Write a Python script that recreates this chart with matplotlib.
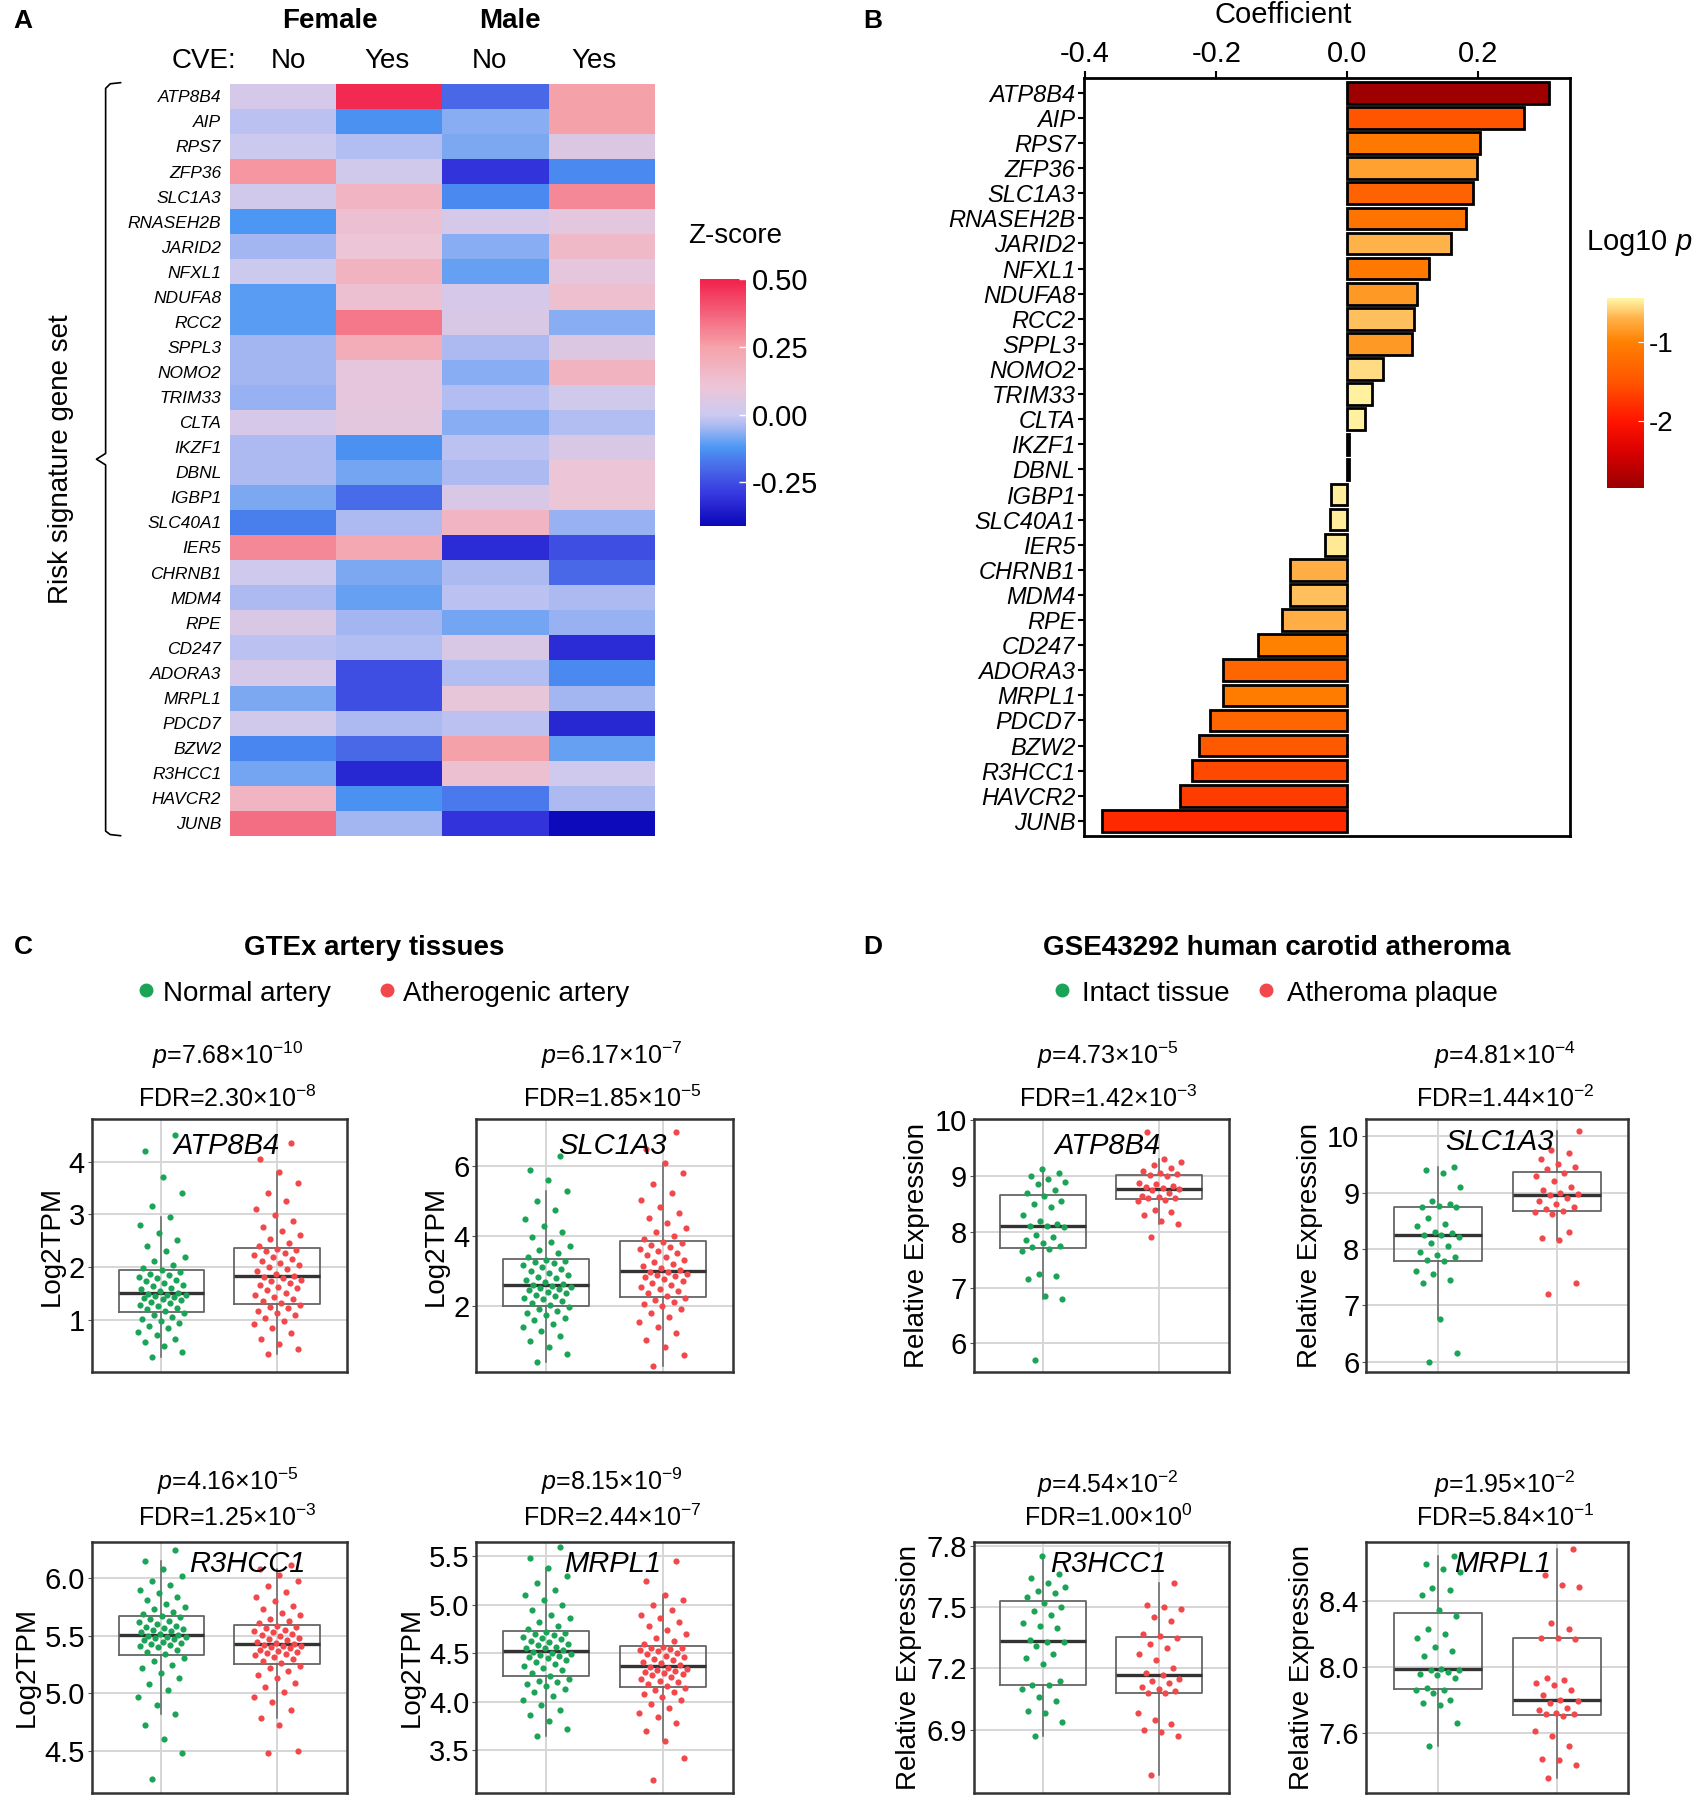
import numpy as np
import matplotlib
matplotlib.use("Agg")
import matplotlib.pyplot as plt
from matplotlib.colors import LinearSegmentedColormap, Normalize
from matplotlib.cm import ScalarMappable
from matplotlib.lines import Line2D

plt.rcParams['font.family'] = ['Liberation Sans', 'DejaVu Sans']
plt.rcParams['mathtext.fontset'] = 'custom'
plt.rcParams['mathtext.rm'] = 'Liberation Sans'
plt.rcParams['mathtext.it'] = 'Liberation Sans:italic'

# ---------------- data ----------------
genes = ["ATP8B4", "AIP", "RPS7", "ZFP36", "SLC1A3", "RNASEH2B", "JARID2", "NFXL1",
         "NDUFA8", "RCC2", "SPPL3", "NOMO2", "TRIM33", "CLTA", "IKZF1", "DBNL",
         "IGBP1", "SLC40A1", "IER5", "CHRNB1", "MDM4", "RPE", "CD247", "ADORA3",
         "MRPL1", "PDCD7", "BZW2", "R3HCC1", "HAVCR2", "JUNB"]

# panel A: z-scores (Female No / Female Yes / Male No / Male Yes)
z_female_no = [0.03, -0.02, 0.0, 0.27, 0.02, -0.12, -0.05, 0.0, -0.11, -0.11, -0.05, -0.05,
               -0.06, 0.03, -0.04, -0.04, -0.08, -0.16, 0.30, 0.01, -0.04, 0.04, -0.02, 0.03,
               -0.08, 0.02, -0.15, -0.09, 0.17, 0.35]
z_female_yes = [0.48, -0.13, -0.03, 0.02, 0.17, 0.12, 0.10, 0.18, 0.12, 0.33, 0.20, 0.08,
                0.08, 0.07, -0.13, -0.09, -0.19, -0.04, 0.22, -0.08, -0.10, -0.05, -0.03, -0.25,
                -0.25, -0.04, -0.20, -0.33, -0.13, -0.05]
z_male_no = [-0.20, -0.07, -0.08, -0.30, -0.14, 0.03, -0.07, -0.10, 0.03, 0.04, -0.04, -0.07,
             -0.03, -0.07, -0.02, -0.04, 0.04, 0.17, -0.32, -0.04, -0.02, -0.09, 0.04, -0.03,
             0.09, -0.02, 0.25, 0.12, -0.17, -0.30]
z_male_yes = [0.25, 0.25, 0.05, -0.14, 0.30, 0.07, 0.15, 0.08, 0.13, -0.07, 0.05, 0.18,
              0.02, -0.03, 0.04, 0.10, 0.10, -0.06, -0.25, -0.20, -0.04, -0.06, -0.32, -0.14,
              -0.05, -0.33, -0.10, 0.01, -0.04, -0.40]
cve_labels = ["No", "Yes", "No", "Yes"]

# panel B: coefficients and log10 p
coef = [0.307, 0.270, 0.203, 0.198, 0.192, 0.181, 0.158, 0.125, 0.107, 0.101, 0.099, 0.054,
        0.037, 0.027, 0.002, 0.002, -0.025, -0.027, -0.034, -0.088, -0.088, -0.100, -0.137,
        -0.189, -0.190, -0.209, -0.227, -0.237, -0.256, -0.375]
log10p = [-2.8, -1.5, -1.1, -0.8, -1.35, -1.15, -0.7, -1.1, -0.85, -0.65, -0.85, -0.55,
          -0.47, -0.47, -0.46, -0.46, -0.48, -0.48, -0.5, -0.72, -0.65, -0.72, -1.0,
          -1.3, -1.05, -1.3, -1.45, -1.6, -1.7, -1.85]

# panel C: GTEx Log2TPM (normal / atherogenic artery)
c_atp8b4_n = [0.3, 0.4, 0.5, 0.58, 0.65, 0.72, 0.78, 0.84, 0.89, 0.94, 0.98, 1.02, 1.06, 1.1, 1.13,
              1.17, 1.2, 1.23, 1.26, 1.29, 1.32, 1.35, 1.37, 1.39, 1.41, 1.43, 1.45, 1.47, 1.48, 1.49,
              1.52, 1.55, 1.58, 1.61, 1.64, 1.67, 1.7, 1.73, 1.76, 1.79, 1.82, 1.85, 1.88, 1.91, 1.94,
              1.99, 2.05, 2.12, 2.2, 2.3, 2.4, 2.52, 2.65, 2.8, 2.95, 3.15, 3.4, 3.7, 4.2, 4.5]
c_atp8b4_a = [0.35, 0.45, 0.55, 0.65, 0.75, 0.85, 0.92, 0.98, 1.04, 1.09, 1.14, 1.18, 1.22, 1.25, 1.28,
              1.32, 1.36, 1.4, 1.44, 1.48, 1.52, 1.56, 1.6, 1.63, 1.66, 1.7, 1.73, 1.76, 1.79, 1.81,
              1.84, 1.88, 1.92, 1.96, 2.0, 2.04, 2.08, 2.12, 2.16, 2.2, 2.24, 2.27, 2.3, 2.32, 2.34,
              2.4, 2.46, 2.53, 2.6, 2.68, 2.77, 2.87, 2.98, 3.1, 3.25, 3.4, 3.6, 3.8, 4.05, 4.35]
c_slc1a3_n = [0.4, 0.65, 0.85, 1.0, 1.15, 1.3, 1.4, 1.5, 1.6, 1.68, 1.75, 1.82, 1.88, 1.93, 1.98,
              2.04, 2.1, 2.15, 2.2, 2.25, 2.3, 2.34, 2.38, 2.42, 2.46, 2.5, 2.53, 2.56, 2.58, 2.6,
              2.64, 2.7, 2.75, 2.8, 2.85, 2.9, 2.96, 3.02, 3.08, 3.13, 3.18, 3.23, 3.27, 3.31, 3.34,
              3.42, 3.52, 3.62, 3.72, 3.85, 3.98, 4.12, 4.3, 4.5, 4.75, 5.0, 5.3, 5.6, 5.9, 6.3]
c_slc1a3_a = [0.3, 0.6, 0.85, 1.05, 1.25, 1.4, 1.55, 1.7, 1.82, 1.92, 2.0, 2.08, 2.14, 2.19, 2.23,
              2.3, 2.37, 2.44, 2.5, 2.56, 2.62, 2.68, 2.73, 2.78, 2.83, 2.87, 2.91, 2.94, 2.97, 2.99,
              3.04, 3.1, 3.16, 3.22, 3.28, 3.34, 3.4, 3.46, 3.52, 3.58, 3.64, 3.7, 3.75, 3.8, 3.84,
              3.92, 4.02, 4.13, 4.25, 4.38, 4.52, 4.68, 4.85, 5.05, 5.25, 5.5, 5.8, 6.1, 6.5, 7.0]
c_r3hcc1_n = [4.25, 4.48, 4.6, 4.72, 4.82, 4.9, 4.97, 5.03, 5.08, 5.13, 5.18, 5.22, 5.25, 5.28, 5.31,
              5.34, 5.36, 5.38, 5.4, 5.41, 5.42, 5.43, 5.44, 5.45, 5.46, 5.47, 5.48, 5.49, 5.49, 5.5,
              5.51, 5.52, 5.53, 5.54, 5.55, 5.56, 5.57, 5.58, 5.59, 5.6, 5.62, 5.63, 5.65, 5.66, 5.67,
              5.69, 5.71, 5.73, 5.75, 5.78, 5.81, 5.84, 5.87, 5.9, 5.94, 5.98, 6.02, 6.08, 6.15, 6.25]
c_r3hcc1_a = [4.48, 4.5, 4.72, 4.78, 4.85, 4.92, 4.97, 5.01, 5.05, 5.09, 5.13, 5.16, 5.19, 5.22, 5.24,
              5.26, 5.28, 5.3, 5.32, 5.33, 5.34, 5.35, 5.36, 5.37, 5.38, 5.39, 5.4, 5.41, 5.41, 5.42,
              5.43, 5.44, 5.45, 5.46, 5.47, 5.48, 5.5, 5.51, 5.52, 5.53, 5.54, 5.55, 5.57, 5.58, 5.59,
              5.61, 5.63, 5.65, 5.68, 5.7, 5.73, 5.76, 5.8, 5.84, 5.88, 5.93, 5.98, 6.03, 6.08, 6.12]
c_mrpl1_n = [3.65, 3.72, 3.8, 3.86, 3.92, 3.97, 4.02, 4.06, 4.1, 4.13, 4.16, 4.18, 4.2, 4.22, 4.24,
             4.27, 4.3, 4.33, 4.35, 4.37, 4.39, 4.41, 4.43, 4.45, 4.46, 4.47, 4.48, 4.49, 4.5, 4.51,
             4.53, 4.55, 4.56, 4.57, 4.59, 4.6, 4.62, 4.63, 4.65, 4.66, 4.67, 4.69, 4.7, 4.71, 4.72,
             4.75, 4.78, 4.82, 4.86, 4.9, 4.95, 5.0, 5.05, 5.1, 5.15, 5.22, 5.3, 5.38, 5.48, 5.6]
c_mrpl1_a = [3.2, 3.42, 3.6, 3.7, 3.78, 3.84, 3.89, 3.94, 3.98, 4.02, 4.05, 4.08, 4.1, 4.12, 4.14,
             4.16, 4.18, 4.2, 4.22, 4.24, 4.26, 4.28, 4.29, 4.3, 4.31, 4.32, 4.33, 4.34, 4.35, 4.36,
             4.38, 4.4, 4.41, 4.43, 4.44, 4.46, 4.47, 4.49, 4.5, 4.52, 4.53, 4.54, 4.55, 4.56, 4.57,
             4.6, 4.63, 4.66, 4.7, 4.74, 4.78, 4.82, 4.86, 4.9, 4.95, 5.0, 5.05, 5.1, 5.25, 5.45]

# panel D: GSE43292 relative expression (intact tissue / atheroma plaque)
d_atp8b4_n = [5.7, 6.8, 6.85, 7.15, 7.2, 7.25, 7.65, 7.7, 7.72, 7.75, 7.8, 7.85, 7.9, 7.95, 8.08, 8.1,
              8.1, 8.15, 8.2, 8.3, 8.45, 8.5, 8.55, 8.65, 8.7, 8.75, 8.85, 8.9, 8.95, 9.0, 9.05, 9.12]
d_atp8b4_a = [7.9, 8.15, 8.2, 8.3, 8.35, 8.4, 8.55, 8.58, 8.6, 8.6, 8.62, 8.65, 8.7, 8.75, 8.77,
              8.78, 8.8, 8.82, 8.85, 8.88, 9.0, 9.02, 9.03, 9.05, 9.1, 9.15, 9.2, 9.25, 9.3, 9.8]
d_slc1a3_n = [6.0, 6.15, 6.75, 7.4, 7.45, 7.55, 7.6, 7.78, 7.8, 7.85, 7.9, 7.95, 8.05, 8.1, 8.22,
              8.25, 8.25, 8.28, 8.3, 8.4, 8.45, 8.55, 8.74, 8.76, 8.75, 8.8, 8.85, 9.1, 9.35, 9.4, 9.45]
d_slc1a3_a = [7.2, 7.4, 8.15, 8.2, 8.3, 8.62, 8.65, 8.68, 8.7, 8.75, 8.8, 8.85, 8.9, 8.95, 8.98,
              9.0, 9.05, 9.1, 9.2, 9.3, 9.35, 9.42, 9.45, 9.5, 9.6, 9.7, 9.75, 10.1]
d_r3hcc1_n = [6.87, 6.94, 6.98, 6.99, 7.04, 7.06, 7.1, 7.12, 7.12, 7.14, 7.22, 7.25, 7.27, 7.31, 7.33,
              7.33, 7.34, 7.4, 7.41, 7.42, 7.46, 7.48, 7.5, 7.52, 7.55, 7.57, 7.58, 7.6, 7.62, 7.64,
              7.66, 7.75]
d_r3hcc1_a = [6.68, 6.87, 6.89, 6.9, 6.93, 6.95, 6.98, 7.08, 7.08, 7.09, 7.1, 7.11, 7.13, 7.14, 7.15,
              7.17, 7.18, 7.2, 7.24, 7.27, 7.3, 7.32, 7.35, 7.36, 7.37, 7.43, 7.45, 7.49, 7.5, 7.51, 7.62]
d_mrpl1_n = [7.52, 7.66, 7.77, 7.78, 7.8, 7.84, 7.86, 7.86, 7.87, 7.93, 7.95, 7.96, 7.97, 7.98, 7.98,
             7.99, 8.07, 8.1, 8.12, 8.18, 8.2, 8.23, 8.31, 8.35, 8.44, 8.47, 8.48, 8.58, 8.6, 8.63, 8.68]
d_mrpl1_a = [7.32, 7.4, 7.43, 7.44, 7.52, 7.58, 7.61, 7.7, 7.71, 7.71, 7.72, 7.74, 7.75, 7.78, 7.79,
             7.8, 7.83, 7.86, 7.89, 7.9, 7.92, 7.93, 8.17, 8.18, 8.18, 8.23, 8.27, 8.49, 8.5, 8.56, 8.72]

GREEN = "#1BA457"
RED = "#F2474B"

# ---------------- layout helpers (coords of a 1478x1568 page) ----------------
W, H = 1478.0, 1568.0


def fx(x):
    return x / W


def fy(y):
    return 1 - y / H


def rect(x0, y0, x1, y1):
    return [x0 / W, 1 - y1 / H, (x1 - x0) / W, (y1 - y0) / H]


def anchored_cmap(name, stops, vmin, vmax):
    return LinearSegmentedColormap.from_list(
        name, [((v - vmin) / (vmax - vmin), c) for v, c in stops])


fig = plt.figure(figsize=(16.97, 18), dpi=100)

# ---------------- A: heatmap ----------------
zmin, zmax = -0.41, 0.5
zcmap = anchored_cmap("z", [(-0.41, "#0A08B8"), (-0.3, "#3535DE"), (-0.2, "#4868E8"),
                            (-0.12, "#4C98F4"), (-0.05, "#A4B6F2"), (0.0, "#CCCAF0"),
                            (0.1, "#ECC6D8"), (0.25, "#F6A2AA"), (0.5, "#F2214B")], zmin, zmax)
zmat = np.column_stack([z_female_no, z_female_yes, z_male_no, z_male_yes])

axA = fig.add_axes(rect(200, 73, 570, 728))
axA.imshow(zmat, cmap=zcmap, vmin=zmin, vmax=zmax, aspect="auto", interpolation="nearest")
axA.set_yticks(range(len(genes)))
axA.set_yticklabels(genes, fontsize=12.5, style="italic")
axA.set_xticks([])
axA.tick_params(axis="y", length=0, pad=6)
for s in axA.spines.values():
    s.set_visible(False)

fig.text(fx(20), fy(18), "A", fontsize=19, fontweight="bold", ha="center", va="center")
fig.text(fx(287), fy(18), "Female", fontsize=20, fontweight="bold", ha="center", va="center")
fig.text(fx(444), fy(18), "Male", fontsize=20, fontweight="bold", ha="center", va="center")
fig.text(fx(178), fy(53), "CVE:", fontsize=20, ha="center", va="center")
for xc, lab in zip([251, 337, 426, 517], cve_labels):
    fig.text(fx(xc), fy(53), lab, fontsize=20, ha="center", va="center")
fig.text(fx(53), fy(400), "Risk signature gene set", fontsize=20, rotation=90,
         ha="center", va="center")

# brace
bx = [105, 96, 92, 92, 84, 92, 92, 96, 105]
by = [72, 73, 77, 395, 400, 405, 724, 727, 728]
fig.add_artist(Line2D([fx(v) for v in bx], [fy(v) for v in by], color="black", lw=1.2,
                      transform=fig.transFigure))

caxA = fig.add_axes(rect(610, 243, 650, 458))
cbA = fig.colorbar(ScalarMappable(Normalize(zmin, zmax), zcmap), cax=caxA)
cbA.outline.set_visible(False)
cbA.set_ticks([0.5, 0.25, 0.0, -0.25])
cbA.set_ticklabels(["0.50", "0.25", "0.00", "-0.25"])
caxA.tick_params(labelsize=21, length=5, direction="in", color="white", width=1, pad=4)
fig.text(fx(640), fy(206), "Z-score", fontsize=20, ha="center", va="center")

# ---------------- B: coefficient bars ----------------
pmin, pmax = -2.84, -0.45
pcmap = anchored_cmap("p", [(-2.84, "#990000"), (-2.4, "#D80000"), (-2.0, "#FF1500"),
                            (-1.5, "#FF5500"), (-1.0, "#FF8000"), (-0.7, "#FFB048"),
                            (-0.45, "#FFF6A6")], pmin, pmax)
pnorm = Normalize(pmin, pmax)

axB = fig.add_axes(rect(944, 68, 1367, 728))
ypos = np.arange(len(genes))
axB.barh(ypos, coef, height=0.86, color=pcmap(pnorm(np.array(log10p))),
         edgecolor="black", linewidth=2)
axB.set_ylim(len(genes) - 0.41, -0.59)
axB.set_xlim(-0.402, 0.339)
axB.set_yticks(ypos)
axB.set_yticklabels(genes, fontsize=17, style="italic")
axB.xaxis.tick_top()
axB.set_xticks([-0.4, -0.2, 0.0, 0.2])
axB.set_xticklabels(["-0.4", "-0.2", "0.0", "0.2"])
axB.tick_params(axis="x", labelsize=21, length=5, width=1.5, pad=2)
axB.tick_params(axis="y", length=4, width=1.5, pad=2)
for s in axB.spines.values():
    s.set_linewidth(2)
fig.text(fx(1118), fy(13), "Coefficient", fontsize=21, ha="center", va="center")
fig.text(fx(760), fy(18), "B", fontsize=19, fontweight="bold", ha="center", va="center")

caxB = fig.add_axes(rect(1400, 260, 1432, 425))
cbB = fig.colorbar(ScalarMappable(pnorm, pcmap), cax=caxB)
cbB.outline.set_visible(False)
cbB.set_ticks([-1, -2])
cbB.set_ticklabels(["-1", "-2"])
caxB.tick_params(labelsize=20, length=4, direction="in", color="white", pad=3)
fig.text(fx(1428), fy(212), r"Log10 $p$", fontsize=21, ha="center", va="center")


# ---------------- C and D: box plots ----------------
def stat_text(m, e):
    return m + "×10$^{" + e + "}$"


def box_panel(r, vals_n, vals_a, ylim, yticks, ylabel, gene, gpos, ms, jw):
    ax = fig.add_axes(r)
    ax.set_xlim(0.4, 2.6)
    ax.set_ylim(*ylim)
    ax.set_axisbelow(True)
    ax.boxplot([vals_n, vals_a], positions=[1, 2], widths=0.74, showfliers=False,
               showcaps=False, zorder=2,
               boxprops=dict(color="#666666", lw=1.3),
               whiskerprops=dict(color="#666666", lw=1.1),
               medianprops=dict(color="#333333", lw=2.4))
    for pos, vals, col in ((1, vals_n, GREEN), (2, vals_a, RED)):
        n = len(vals)
        offs = (np.modf(np.arange(n) * 0.6180339 + 0.31)[0] - 0.5) * 2 * jw
        ax.scatter(pos + offs, vals, s=ms, color=col, lw=0, zorder=3)
    ax.set_xticks([1, 2])
    ax.set_xticklabels([])
    ax.set_yticks(yticks)
    ax.set_yticklabels([str(t) for t in yticks])
    ax.grid(True, color="#D6D6D6", lw=1.4)
    ax.tick_params(axis="x", length=0)
    ax.tick_params(axis="y", labelsize=21, length=3, color="#555555", pad=2)
    for s in ax.spines.values():
        s.set_linewidth(1.8)
        s.set_color("#333333")
    ax.set_ylabel(ylabel, fontsize=20, labelpad=3)
    ax.text(gpos[0], gpos[1], gene, transform=ax.transAxes, ha="center", va="center",
            style="italic", fontsize=21, zorder=5)
    return ax


panels = [
    # rect, normal, disease, ylim, yticks, ylabel, gene, gene pos, p, fdr, text x/y, size, jitter
    ((80, 975, 302, 1195), c_atp8b4_n, c_atp8b4_a, (0.02, 4.8), [1, 2, 3, 4], "Log2TPM",
     "ATP8B4", (0.53, 0.895), ("7.68", "-10"), ("2.30", "-8"), 198, 919, 957, 20, 0.21),
    ((415, 975, 638, 1195), c_slc1a3_n, c_slc1a3_a, (0.13, 7.35), [2, 4, 6], "Log2TPM",
     "SLC1A3", (0.53, 0.895), ("6.17", "-7"), ("1.85", "-5"), 533, 919, 957, 20, 0.21),
    ((80, 1343, 302, 1562), c_r3hcc1_n, c_r3hcc1_a, (4.13, 6.32), [4.5, 5.0, 5.5, 6.0],
     "Log2TPM", "R3HCC1", (0.61, 0.91), ("4.16", "-5"), ("1.25", "-3"), 198, 1290, 1322, 20, 0.21),
    ((415, 1343, 638, 1562), c_mrpl1_n, c_mrpl1_a, (3.06, 5.65), [3.5, 4.0, 4.5, 5.0, 5.5],
     "Log2TPM", "MRPL1", (0.53, 0.91), ("8.15", "-9"), ("2.44", "-7"), 533, 1290, 1322, 20, 0.21),
    ((848, 975, 1070, 1195), d_atp8b4_n, d_atp8b4_a, (5.49, 10.02), [6, 7, 8, 9, 10],
     "Relative Expression", "ATP8B4", (0.527, 0.895), ("4.73", "-5"), ("1.42", "-3"),
     965, 919, 957, 20, 0.19),
    ((1190, 975, 1418, 1195), d_slc1a3_n, d_slc1a3_a, (5.82, 10.3), [6, 7, 8, 9, 10],
     "Relative Expression", "SLC1A3", (0.51, 0.91), ("4.81", "-4"), ("1.44", "-2"),
     1311, 919, 957, 20, 0.19),
    ((848, 1343, 1070, 1562), d_r3hcc1_n, d_r3hcc1_a, (6.59, 7.82), [6.9, 7.2, 7.5, 7.8],
     "Relative Expression", "R3HCC1", (0.527, 0.91), ("4.54", "-2"), ("1.00", "0"),
     965, 1293, 1322, 20, 0.19),
    ((1190, 1343, 1418, 1562), d_mrpl1_n, d_mrpl1_a, (7.23, 8.765), [7.6, 8.0, 8.4],
     "Relative Expression", "MRPL1", (0.52, 0.91), ("1.95", "-2"), ("5.84", "-1"),
     1311, 1293, 1322, 20, 0.19),
]

for (r, vn, va, yl, yt, ylab, gene, gpos, pv, fdr, tx, ty1, ty2, ms, jw) in panels:
    box_panel(rect(*r), vn, va, yl, yt, ylab, gene, gpos, ms, jw)
    fig.text(fx(tx), fy(ty1), "$p$=" + stat_text(*pv), fontsize=18, ha="center", va="center")
    fig.text(fx(tx), fy(ty2), "FDR=" + stat_text(*fdr), fontsize=18, ha="center", va="center")

# section headers and legends
fig.text(fx(20), fy(825), "C", fontsize=19, fontweight="bold", ha="center", va="center")
fig.text(fx(326), fy(826), "GTEx artery tissues", fontsize=20, fontweight="bold",
         ha="center", va="center")
fig.text(fx(760), fy(825), "D", fontsize=19, fontweight="bold", ha="center", va="center")
fig.text(fx(1112), fy(826), "GSE43292 human carotid atheroma", fontsize=20,
         fontweight="bold", ha="center", va="center")

legend_items = [(127, GREEN, 142, "Normal artery"), (337, RED, 351, "Atherogenic artery"),
                (925, GREEN, 942, "Intact tissue"), (1103, RED, 1121, "Atheroma plaque")]
for dx, col, tx, lab in legend_items:
    fig.add_artist(Line2D([fx(dx)], [fy(862)], marker="o", markersize=9, color=col, lw=0,
                          transform=fig.transFigure))
    fig.text(fx(tx), fy(866), lab, fontsize=20, ha="left", va="center")

fig.savefig("out.png", dpi=100)
